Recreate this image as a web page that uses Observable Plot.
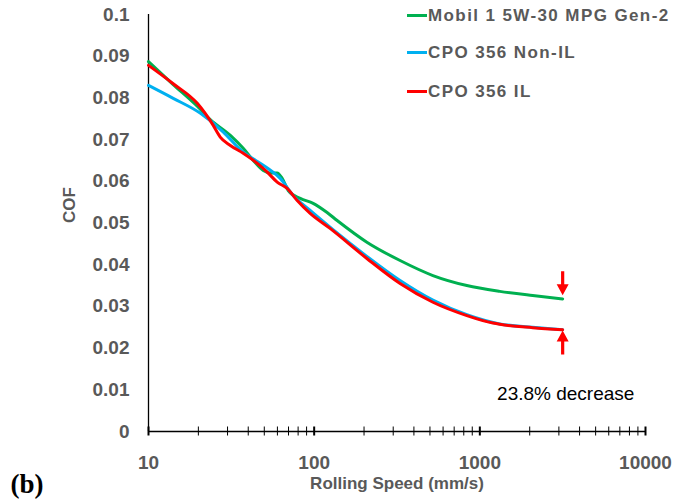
<!DOCTYPE html>
<html>
<head>
<meta charset="utf-8">
<script src="https://cdn.jsdelivr.net/npm/d3@7"></script>
<script src="https://cdn.jsdelivr.net/npm/@observablehq/plot@0.6"></script>
<style>
  body { margin: 0; background: #fff; }
  #wrap { position: relative; width: 673px; height: 501px; font-family: "Liberation Sans", Arial, sans-serif; }
  #legend { position: absolute; left: 407px; top: 0; }
  .row { position: absolute; left: 0; white-space: nowrap; font-weight: bold; font-size: 17px; letter-spacing: 1.4px; color: #595959; line-height: 20px; }
  .sw { display: inline-block; width: 20px; height: 3px; vertical-align: middle; margin-right: 1px; position: relative; top: -1px; }
</style>
</head>
<body>
<div id="wrap"></div>
<script>
// Rolling speed (mm/s) and COF for each lubricant
const mobilSpeed = [10, 14.1, 19.7, 23.6, 31.2, 37.3, 42.9, 49.3, 54.3, 59.8, 64.1, 69.7, 82.4, 98.6, 119.7, 137.6, 208, 330, 521, 835, 1319, 2085, 3162];
const mobilCOF   = [0.0887, 0.0832, 0.078, 0.0748, 0.071, 0.0679, 0.065, 0.0626, 0.062, 0.062, 0.0607, 0.0578, 0.0559, 0.0547, 0.0525, 0.0506, 0.0454, 0.041, 0.0374, 0.035, 0.0336, 0.0326, 0.0318];

const nonILSpeed = [10, 14.1, 20.6, 28.3, 35.8, 52.1, 62.4, 74.7, 94.6, 130, 208, 330, 521, 835, 1319, 2085, 3162];
const nonILCOF   = [0.083, 0.0799, 0.0763, 0.0718, 0.0676, 0.0632, 0.0607, 0.0566, 0.053, 0.0484, 0.042, 0.0362, 0.0315, 0.028, 0.0258, 0.025, 0.0244];

const ilSpeed = [10, 14.1, 19.7, 24.6, 27.1, 31.2, 37.3, 45.4, 52.1, 59.8, 68.7, 79, 94.6, 124.7, 208, 330, 521, 835, 1200, 1319, 2085, 3162];
const ilCOF   = [0.0878, 0.0834, 0.0787, 0.0734, 0.0706, 0.0686, 0.0667, 0.0643, 0.0622, 0.0598, 0.0583, 0.0554, 0.0523, 0.0487, 0.0415, 0.0355, 0.031, 0.0278, 0.026, 0.0257, 0.0249, 0.0244];

const seriesNames = ["Mobil 1 5W-30 MPG Gen-2", "CPO 356 Non-IL", "CPO 356 IL"];
const seriesColors = ["#00B050", "#00B0F0", "#FF0000"];

const xTickLabels = [10, 100, 1000, 10000];
const yTickLabels = [0, 0.01, 0.02, 0.03, 0.04, 0.05, 0.06, 0.07, 0.08, 0.09, 0.1];
const xMinorTicks = [20,30,40,50,60,70,80,90,200,300,400,500,600,700,800,900,2000,3000,4000,5000,6000,7000,8000,9000];

const annotationText = ["23.8% decrease"];
const annotationAt = {x: 3300, y: 0.0091};
// arrows point at the end values of Mobil and IL curves
const arrowData = [
  {x: 3162, y: 0.0327, rotate: 180},
  {x: 3162, y: 0.0242, rotate: 0}
];

const toRows = (xs, ys, name) => xs.map((x, i) => ({x, y: ys[i], name}));
const data = [
  ...toRows(mobilSpeed, mobilCOF, seriesNames[0]),
  ...toRows(nonILSpeed, nonILCOF, seriesNames[1]),
  ...toRows(ilSpeed, ilCOF, seriesNames[2])
];

const arrowShape = {
  draw(ctx, l) {
    const hw = 6, hl = 11, sw = 1.6;
    ctx.moveTo(-sw, 0);
    ctx.lineTo(-sw, -l + hl);
    ctx.lineTo(-hw, -l + hl);
    ctx.lineTo(0, -l);
    ctx.lineTo(hw, -l + hl);
    ctx.lineTo(sw, -l + hl);
    ctx.lineTo(sw, 0);
    ctx.closePath();
  }
};

const font = "'Liberation Sans', Arial, sans-serif";
const gray = "#595959";

const chart = Plot.plot({
  width: 673,
  height: 501,
  marginLeft: 148,
  marginRight: 28,
  marginTop: 14,
  marginBottom: 70,
  style: {fontFamily: font, background: "#fff", overflow: "visible"},
  x: {type: "log", domain: [10, 10000]},
  y: {domain: [0, 0.1]},
  color: {domain: seriesNames, range: seriesColors},
  marks: [
    Plot.axisY({ticks: yTickLabels, tickSize: 0, tickPadding: 19, tickFormat: d => String(+d.toFixed(2)),
      fontSize: 19, fontWeight: "bold", fill: gray, label: null, style: {letterSpacing: "0.8px"}}),
    Plot.axisX({ticks: xTickLabels, tickSize: 0, tickPadding: 24, tickFormat: d => String(d),
      fontSize: 19, fontWeight: "bold", fill: gray, label: null, style: {letterSpacing: "0.8px"}}),
    Plot.axisX({ticks: xMinorTicks, tickSize: 9, dy: -4.5, text: null, label: null, stroke: "#000", strokeWidth: 1}),
    Plot.axisX({ticks: xTickLabels, tickSize: 9, dy: -4.5, text: null, label: null, stroke: "#000", strokeWidth: 2}),
    Plot.ruleY([0], {stroke: "#000", strokeWidth: 1.3}),
    Plot.ruleX([10], {stroke: "#000", strokeWidth: 1.3}),
    Plot.text(["COF"], {frameAnchor: "left", dx: -79, rotate: -90, fontSize: 17, fontWeight: "bold", fill: gray, style: {letterSpacing: "1px"}}),
    Plot.text(["Rolling Speed (mm/s)"], {frameAnchor: "bottom", dy: 57, fontSize: 17, fontWeight: "bold", fill: gray, style: {letterSpacing: "0.2px"}}),
    Plot.text(["(b)"], {frameAnchor: "bottom-left", dx: -138, dy: 53, textAnchor: "start", lineAnchor: "middle", fontSize: 27, fontWeight: "bold", fill: "#000", fontFamily: "'Liberation Serif', 'Times New Roman', serif"}),
    Plot.line(data, {x: "x", y: "y", stroke: "name", strokeWidth: 3, curve: "monotone-x"}),
    Plot.vector(arrowData, {x: "x", y: "y", rotate: "rotate", length: 24, anchor: "end", shape: arrowShape, fill: "#FF0000", stroke: "none"}),
    Plot.text(annotationText, {x: () => annotationAt.x, y: () => annotationAt.y, fontSize: 19, fill: "#000", textAnchor: "middle", style: {letterSpacing: "0.6px"}})
  ]
});

const wrap = document.getElementById("wrap");
wrap.appendChild(chart);

const legend = document.createElement("div");
legend.id = "legend";
const rowTops = [6, 43, 82];
seriesNames.forEach((name, i) => {
  const row = document.createElement("div");
  row.className = "row";
  row.style.top = rowTops[i] + "px";
  const sw = document.createElement("span");
  sw.className = "sw";
  sw.style.background = seriesColors[i];
  row.appendChild(sw);
  row.appendChild(document.createTextNode(name));
  legend.appendChild(row);
});
wrap.appendChild(legend);
</script>
</body>
</html>
